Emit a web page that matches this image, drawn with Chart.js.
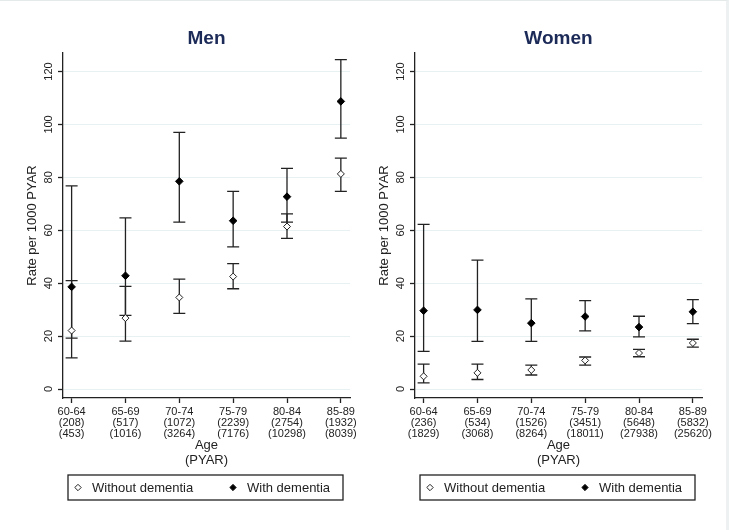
<!DOCTYPE html>
<html>
<head>
<meta charset="utf-8">
<script src="https://cdn.jsdelivr.net/npm/chart.js@4.4.1/dist/chart.umd.min.js"></script>
<style>
  html, body { margin: 0; padding: 0; background: #fff; }
  #wrap { position: relative; width: 729px; height: 530px; overflow: hidden; box-sizing: border-box; border-top: 1px solid #e4e9e9; border-right: 3px solid #eef1f1; }
  canvas { position: absolute; top: 0; }
  #men { left: 0; }
  #women { left: 352px; }
</style>
</head>
<body>
<div id="wrap">
  <canvas id="men" width="365" height="530"></canvas>
  <canvas id="women" width="365" height="530"></canvas>
</div>
<script>
// age bands and person-years (with dementia / without dementia)
const ageGroups = ['60-64', '65-69', '70-74', '75-79', '80-84', '85-89'];
const menPyarWith = ['(208)', '(517)', '(1072)', '(2239)', '(2754)', '(1932)'];
const menPyarWithout = ['(453)', '(1016)', '(3264)', '(7176)', '(10298)', '(8039)'];
const womenPyarWith = ['(236)', '(534)', '(1526)', '(3451)', '(5648)', '(5832)'];
const womenPyarWithout = ['(1829)', '(3068)', '(8264)', '(18011)', '(27938)', '(25620)'];

// rates per 1000 PYAR with 95% CI
const menWithout = [22.1, 26.8, 34.6, 42.5, 61.4, 81.3];
const menWithoutLo = [11.8, 18.1, 28.6, 37.9, 56.9, 74.7];
const menWithoutHi = [41.0, 38.8, 41.5, 47.4, 66.2, 87.3];
const menWith = [38.6, 42.8, 78.5, 63.6, 72.7, 108.7];
const menWithLo = [19.2, 27.8, 63.1, 53.7, 63.1, 94.8];
const menWithHi = [76.8, 64.7, 97.0, 74.7, 83.4, 124.5];

const womenWithout = [4.8, 6.1, 7.2, 10.8, 13.6, 17.4];
const womenWithoutLo = [2.3, 3.6, 5.3, 9.0, 12.2, 15.8];
const womenWithoutHi = [9.4, 9.4, 9.0, 12.1, 15.0, 18.8];
const womenWith = [29.6, 29.9, 24.9, 27.4, 23.4, 29.2];
const womenWithLo = [14.2, 18.0, 18.0, 22.0, 19.7, 24.7];
const womenWithHi = [62.2, 48.7, 34.1, 33.4, 27.5, 33.8];

const yTicks = [0, 20, 40, 60, 80, 100, 120];

const FONT = "'Liberation Sans', Arial, sans-serif";
const INK = '#222222';

// draws the CI whiskers behind the markers
const errorBars = {
  id: 'errorBars',
  beforeDatasetsDraw(chart) {
    const { ctx, scales: { x, y } } = chart;
    ctx.save();
    ctx.strokeStyle = INK;
    ctx.lineWidth = 1.3;
    chart.data.datasets.forEach(ds => {
      ds.lo.forEach((lo, i) => {
        const px = x.getPixelForValue(i);
        const y1 = y.getPixelForValue(lo);
        const y2 = y.getPixelForValue(ds.hi[i]);
        ctx.beginPath();
        ctx.moveTo(px, y1); ctx.lineTo(px, y2);
        ctx.moveTo(px - 6, y1); ctx.lineTo(px + 6, y1);
        ctx.moveTo(px - 6, y2); ctx.lineTo(px + 6, y2);
        ctx.stroke();
      });
    });
    ctx.restore();
  }
};

// panel title and boxed legend like Stata's
const decorations = {
  id: 'decorations',
  afterDraw(chart, args, opts) {
    const { ctx, chartArea: a } = chart;
    ctx.save();
    ctx.fillStyle = '#1c2a58';
    ctx.font = 'bold 19px ' + FONT;
    ctx.textAlign = 'center';
    ctx.textBaseline = 'middle';
    ctx.fillText(opts.title, (a.left + a.right) / 2, 38);

    const top = 474, h = 25;
    ctx.strokeStyle = INK;
    ctx.lineWidth = 1.3;
    ctx.strokeRect(a.left + 5, top, a.right - a.left - 12, h);
    const cy = top + h / 2;
    ctx.font = '13px ' + FONT;
    ctx.textAlign = 'left';
    const items = [[chart.data.datasets[0], a.left + 15], [chart.data.datasets[1], a.left + 170]];
    items.forEach(([ds, sx]) => {
      ctx.fillStyle = ds.backgroundColor;
      ctx.strokeStyle = INK;
      ctx.lineWidth = 1;
      Chart.helpers.drawPoint(ctx, { pointStyle: 'rectRot', radius: 3.2, borderWidth: 1 }, sx, cy);
      ctx.fillStyle = INK;
      ctx.fillText(ds.label, sx + 14, cy + 1);
    });
    ctx.restore();
  }
};

function makeChart(id, title, pyarWith, pyarWithout, without, withoutLo, withoutHi, withD, withLo, withHi) {
  const ctx = document.getElementById(id).getContext('2d');
  return new Chart(ctx, {
    type: 'scatter',
    data: {
      datasets: [
        {
          label: 'Without dementia',
          data: without.map((v, i) => ({ x: i, y: v })),
          lo: withoutLo, hi: withoutHi,
          pointStyle: 'rectRot', pointRadius: 3.5,
          backgroundColor: '#ffffff', borderColor: INK, borderWidth: 1
        },
        {
          label: 'With dementia',
          data: withD.map((v, i) => ({ x: i, y: v })),
          lo: withLo, hi: withHi,
          pointStyle: 'rectRot', pointRadius: 3.8,
          backgroundColor: '#000000', borderColor: '#000000', borderWidth: 1
        }
      ]
    },
    options: {
      responsive: false,
      animation: false,
      layout: { padding: { left: 0, right: 15, top: 52, bottom: 63 } },
      plugins: {
        legend: { display: false },
        tooltip: { enabled: false },
        decorations: { title: title }
      },
      scales: {
        x: {
          type: 'linear', min: -0.16, max: 5.17,
          afterBuildTicks: s => { s.ticks = ageGroups.map((_, i) => ({ value: i })); },
          afterFit: s => { s.height = 70; },
          ticks: {
            autoSkip: false, minRotation: 0, maxRotation: 0, padding: 4,
            color: INK, font: { family: FONT, size: 11, lineHeight: 0.97 },
            callback: (v, i) => [ageGroups[i], pyarWith[i], pyarWithout[i]]
          },
          grid: { drawOnChartArea: false, tickColor: INK, tickLength: 5, tickWidth: 1.3 },
          border: { color: INK, width: 1.3 },
          title: {
            display: true, text: ['Age', '(PYAR)'], color: INK, padding: 0,
            font: { family: FONT, size: 13, lineHeight: 1.15 }
          }
        },
        y: {
          min: -3.4, max: 127,
          afterBuildTicks: s => { s.ticks = yTicks.map(v => ({ value: v })); },
          afterFit: s => { s.width = 63; },
          ticks: {
            minRotation: 90, maxRotation: 90, crossAlign: 'center', padding: 0,
            color: INK, font: { family: FONT, size: 11 }
          },
          grid: { color: '#e8f1f1', lineWidth: 1, tickColor: INK, tickLength: 5, tickWidth: 1.3 },
          border: { color: INK, width: 1.3 },
          title: {
            display: true, text: 'Rate per 1000 PYAR', color: INK, padding: { top: 25, bottom: 0 },
            font: { family: FONT, size: 13, lineHeight: 1.2 }
          }
        }
      }
    },
    plugins: [errorBars, decorations]
  });
}

makeChart('men', 'Men', menPyarWith, menPyarWithout,
  menWithout, menWithoutLo, menWithoutHi, menWith, menWithLo, menWithHi);
makeChart('women', 'Women', womenPyarWith, womenPyarWithout,
  womenWithout, womenWithoutLo, womenWithoutHi, womenWith, womenWithLo, womenWithHi);
</script>
</body>
</html>
